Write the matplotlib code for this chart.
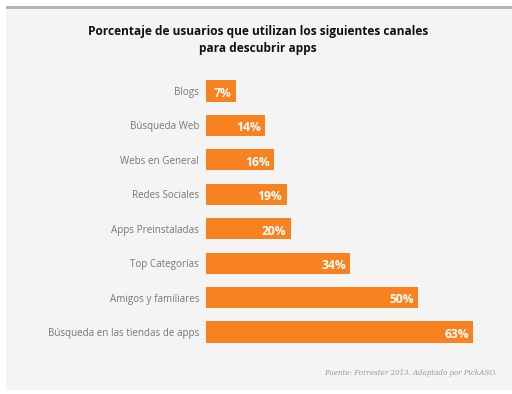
import matplotlib
matplotlib.use("Agg")
import matplotlib.pyplot as plt
from matplotlib.patches import Rectangle

categories = ["Blogs", "Búsqueda Web", "Webs en General", "Redes Sociales",
              "Apps Preinstaladas", "Top Categorías", "Amigos y familiares",
              "Búsqueda en las tiendas de apps"]
values = [7, 14, 16, 19, 20, 34, 50, 63]
value_labels = ["7%", "14%", "16%", "19%", "20%", "34%", "50%", "63%"]
title = "Porcentaje de usuarios que utilizan los siguientes canales\npara descubrir apps"
source = "Fuente: Forrester 2013. Adaptado por PickASO."

W, H = 512, 394
fig = plt.figure(figsize=(W/100, H/100), dpi=100)
fig.patch.set_facecolor("white")

# panel background
fig.patches.append(Rectangle((6/W, 1 - 390/H), (W-6)/W, (390-7)/H,
                             transform=fig.transFigure, facecolor="#f4f4f4",
                             edgecolor="none", zorder=-10))
fig.patches.append(Rectangle((6/W, 1 - 9/H), (W-6)/W, 3/H,
                             transform=fig.transFigure, facecolor="#b4b4b4",
                             edgecolor="none", zorder=-9))

# axes: x from 206px to 473px (0..63), y rows centered 91..332 px
x0, x1 = 206, 473
step = (332 - 91) / 7
ytop, ybot = 91 - step/2, 332 + step/2
ax = fig.add_axes([x0/W, 1 - ybot/H, (x1-x0)/W, (ybot-ytop)/H])
ax.set_zorder(5)
ax.set_facecolor("none")
ypos = list(range(len(categories)))
ax.barh(ypos, values, height=0.61, color="#f7821f", zorder=2)
ax.set_xlim(0, 63)
ax.set_ylim(len(categories) - 0.5, -0.5)
for s in ax.spines.values():
    s.set_visible(False)
ax.set_xticks([])
ax.set_yticks(ypos)
ax.set_yticklabels(categories, fontsize=7.1, color="#777777", family="Open Sans")
ax.tick_params(axis="y", length=0, pad=5)
for y, v, lab in zip(ypos, values, value_labels):
    ax.text(v - 1.0, y + 0.07, lab, ha="right", va="center", color="white",
            fontsize=8.7, fontweight="bold", family="Open Sans", zorder=3)

fig.text(258/W, 1 - 40/H, title, ha="center", va="center", fontsize=8.6,
         fontweight="bold", family="Open Sans", color="#111111", linespacing=1.4)
fig.text(497/W, 1 - 373/H, source, ha="right", va="center", fontsize=5.1,
         style="italic", family="DejaVu Serif", color="#999999")

fig.savefig("out.png", dpi=100, facecolor=fig.get_facecolor())
